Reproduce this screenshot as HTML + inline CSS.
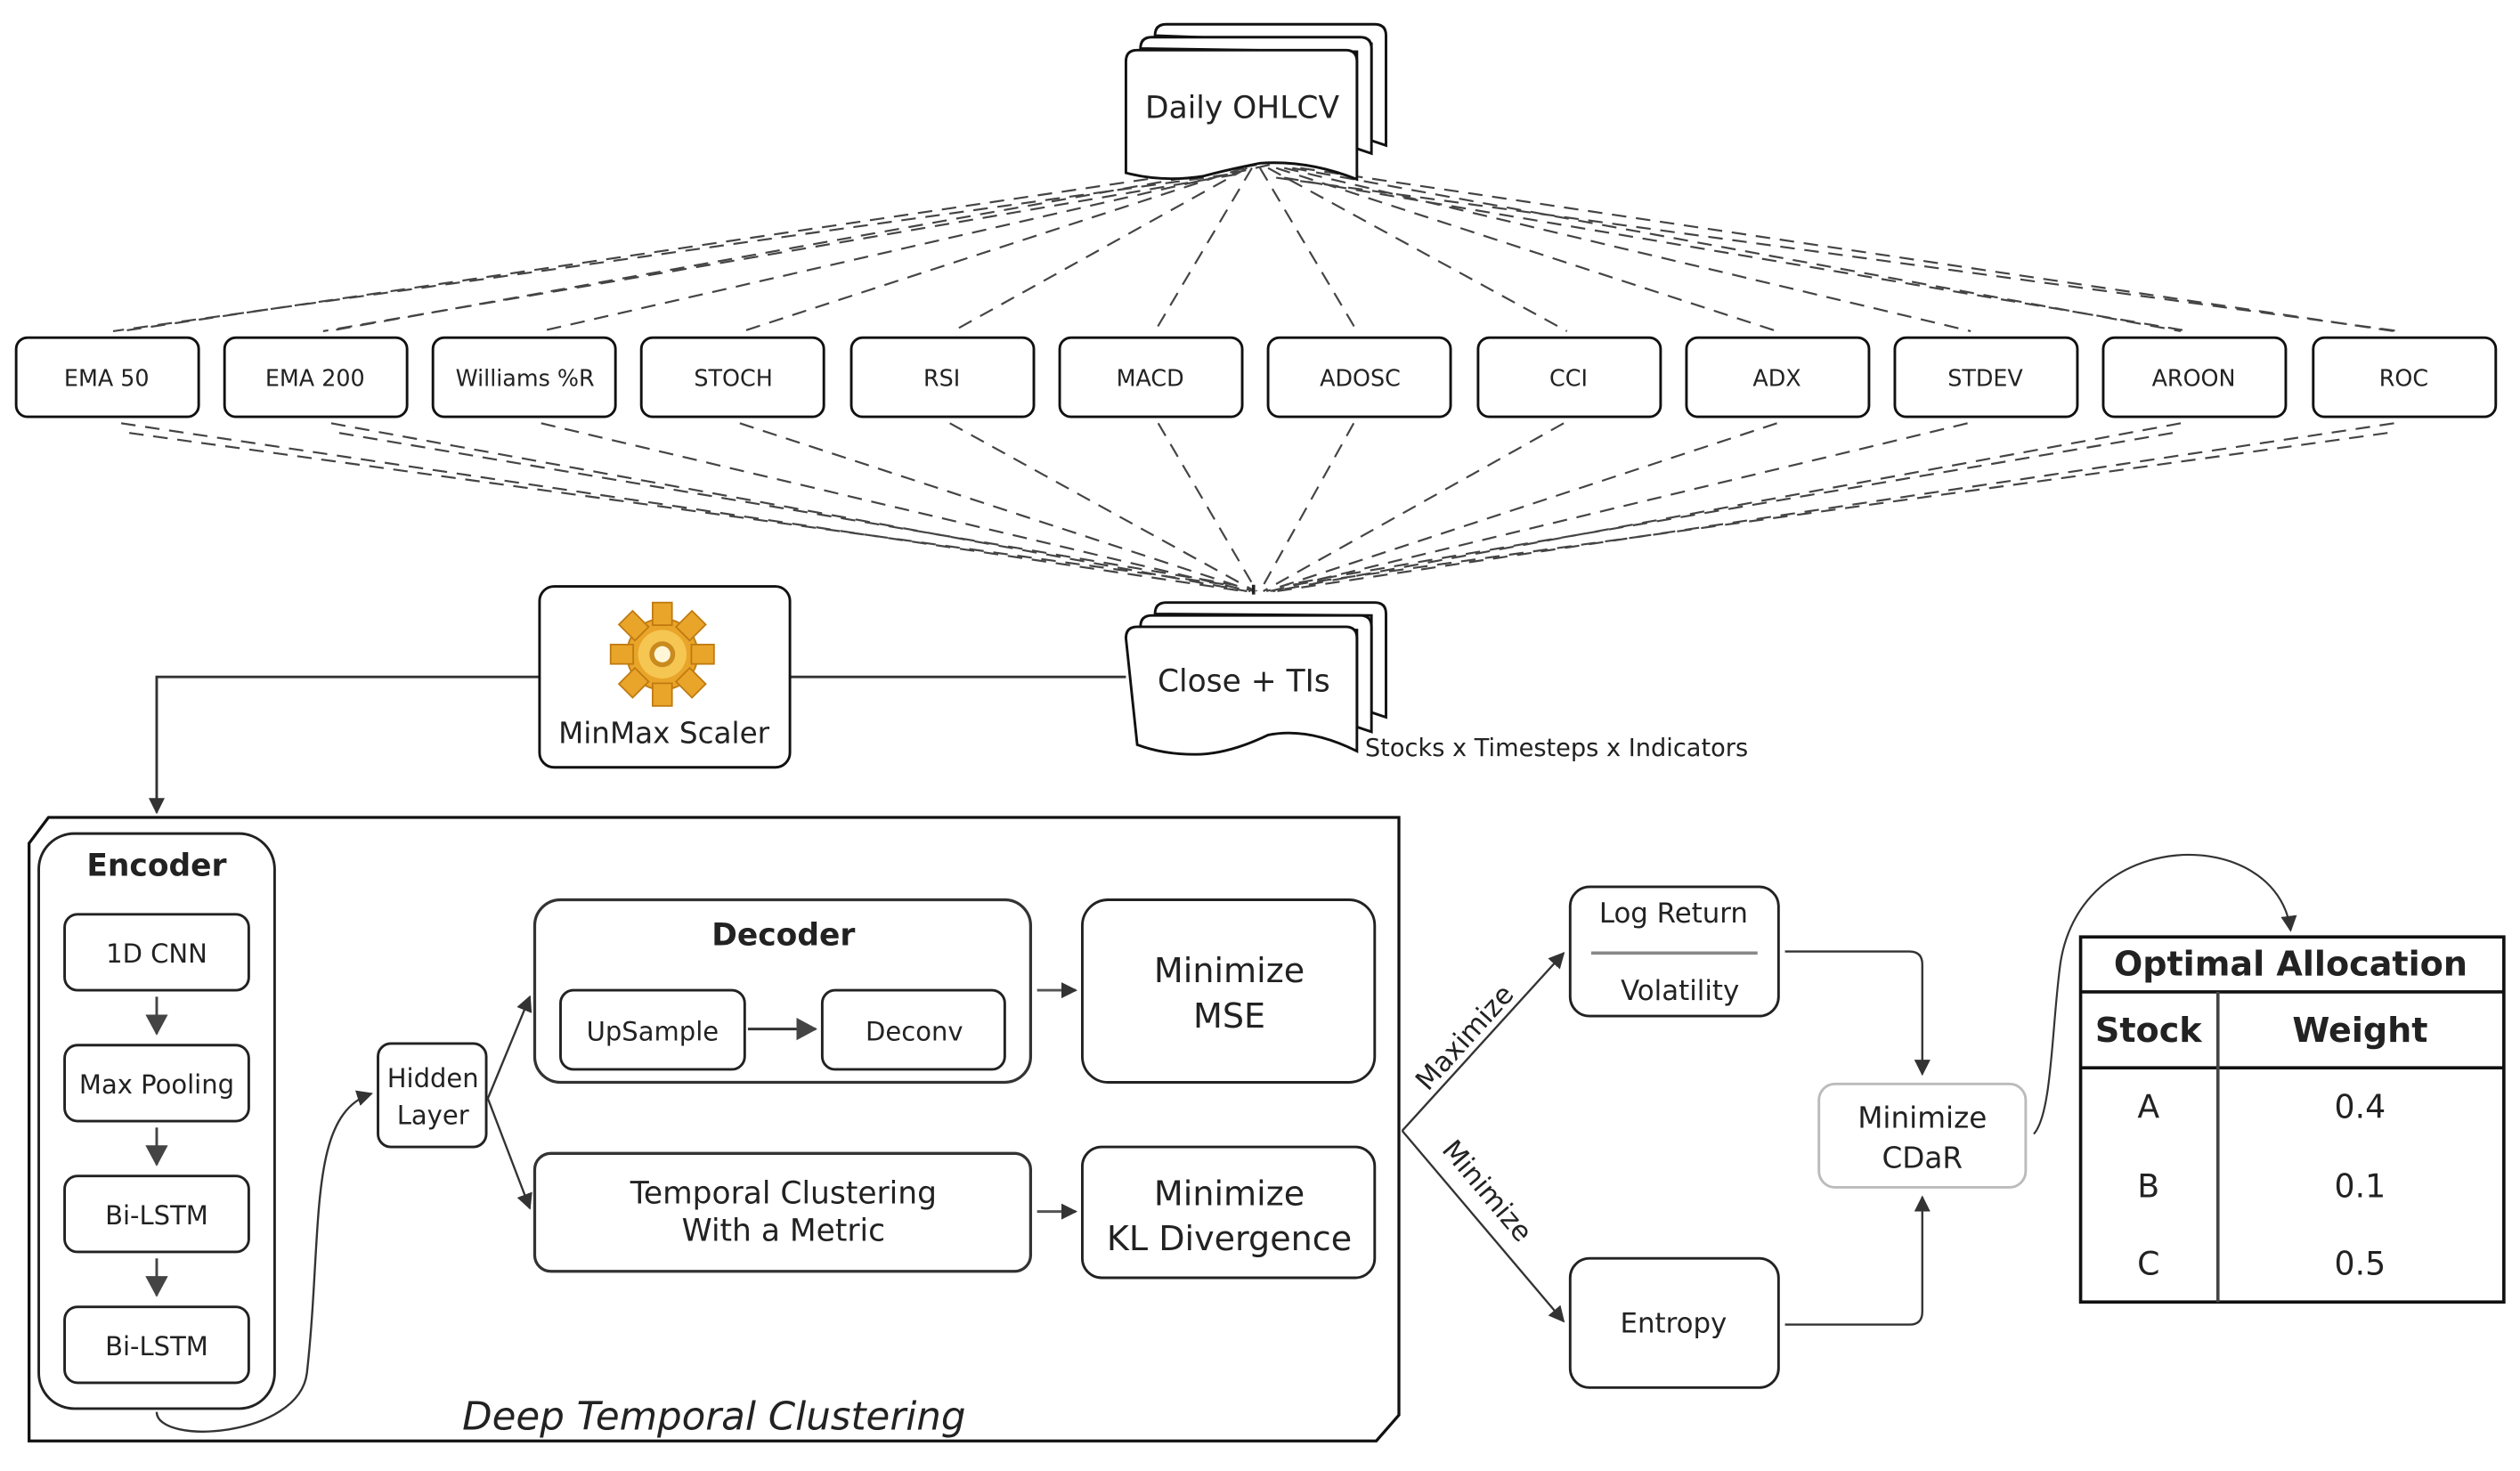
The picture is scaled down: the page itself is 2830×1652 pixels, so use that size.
<!DOCTYPE html>
<html><head><meta charset="utf-8"><style>
html,body{margin:0;padding:0;background:#fff;}
svg{display:block;}
text{font-family:"DejaVu Sans","Liberation Sans",sans-serif;fill:#222;}
</style></head><body>
<svg width="2830" height="1652" viewBox="0 0 1560 910.6" xmlns="http://www.w3.org/2000/svg">
<defs>
<marker id="a" markerWidth="10" markerHeight="10" refX="9" refY="5" orient="auto" markerUnits="userSpaceOnUse"><path d="M0,0 L10,5 L0,10 z" fill="#333"/></marker>
<marker id="b" markerWidth="14" markerHeight="14" refX="12" refY="7" orient="auto" markerUnits="userSpaceOnUse"><path d="M0,0 L13,7 L0,14 z" fill="#444"/></marker>
</defs>
<rect width="1560" height="911" fill="#fff"/>

<!-- dashed lines -->
<g stroke="#444" stroke-width="1.2" stroke-dasharray="9,6" fill="none">
<path d="M770,102 L75,205 M778,102 L203,205 M786,102 L335,205 M770,104 L460,205 M772,104 L590,205 M775,104 L715,205 M780,104 L840,205 M785,104 L970,205 M790,104 L1100,205 M795,104 L1220,205 M800,104 L1350,205 M805,104 L1482,205"/>
<path d="M760,108 L70,205 M790,110 L1485,205 M765,108 L200,205 M795,110 L1355,205"/>
<path d="M75,262 L770,366 M205,262 L772,366 M335,262 L774,366 M458,262 L776,366 M588,262 L777,366 M717,262 L778,366 M838,262 L780,366 M968,262 L782,366 M1100,262 L784,366 M1218,262 L786,366 M1350,262 L788,366 M1482,262 L790,366"/>
<path d="M80,268 L760,362 M1478,268 L800,362 M210,268 L764,362 M1345,268 L796,362"/>
</g>

<!-- Daily OHLCV doc -->
<g stroke="#111" stroke-width="1.6" fill="#fff">
<path d="M715,22 q0,-7 7,-7 h129 q7,0 7,7 v68 l-9,-3 v-60 z"/>
<path d="M706,30 q0,-7 7,-7 h129 q7,0 7,7 v65 l-9,-3 v-60 z"/>
<path d="M697,38 q0,-7 7,-7 h129 q7,0 7,7 v73 q-30,-12 -60,-10 q-20,4 -35,8 q-25,4 -48,-2 z"/>
</g>
<text x="769" y="73" font-size="19" text-anchor="middle">Daily OHLCV</text>

<!-- indicator boxes -->
<g stroke="#111" stroke-width="1.6" fill="#fff">
<rect x="10" y="209" width="113" height="49" rx="7"/><rect x="139" y="209" width="113" height="49" rx="7"/>
<rect x="268" y="209" width="113" height="49" rx="7"/><rect x="397" y="209" width="113" height="49" rx="7"/>
<rect x="527" y="209" width="113" height="49" rx="7"/><rect x="656" y="209" width="113" height="49" rx="7"/>
<rect x="785" y="209" width="113" height="49" rx="7"/><rect x="915" y="209" width="113" height="49" rx="7"/>
<rect x="1044" y="209" width="113" height="49" rx="7"/><rect x="1173" y="209" width="113" height="49" rx="7"/>
<rect x="1302" y="209" width="113" height="49" rx="7"/><rect x="1432" y="209" width="113" height="49" rx="7"/>
</g>
<g font-size="14" text-anchor="middle">
<text x="66" y="239">EMA 50</text><text x="195" y="239">EMA 200</text><text x="325" y="239">Williams %R</text>
<text x="454" y="239">STOCH</text><text x="583" y="239">RSI</text><text x="712" y="239">MACD</text>
<text x="842" y="239">ADOSC</text><text x="971" y="239">CCI</text><text x="1100" y="239">ADX</text>
<text x="1229" y="239">STDEV</text><text x="1358" y="239">AROON</text><text x="1488" y="239">ROC</text>
</g>

<!-- Close + TIs doc -->
<g stroke="#111" stroke-width="1.6" fill="#fff">
<path d="M715,380 q0,-7 7,-7 h129 q7,0 7,7 v64 l-9,-3 v-60 z"/>
<path d="M706,388 q0,-7 7,-7 h129 q7,0 7,7 v65 l-9,-3 v-60 z"/>
<path d="M697,395 q0,-7 7,-7 h129 q7,0 7,7 v70 q-30,-15 -55,-10 q-25,12 -45,12 q-20,0 -36,-6 z"/>
</g>
<text x="770" y="428" font-size="19" text-anchor="middle">Close + TIs</text>
<text x="845" y="468" font-size="15">Stocks x Timesteps x Indicators</text>
<path d="M776,362 v6" stroke="#222" stroke-width="2"/>

<!-- MinMax -->
<path d="M697,419 H489 M334,419 H97 V503" stroke="#333" stroke-width="1.6" fill="none" marker-end="url(#a)"/>
<rect x="334" y="363" width="155" height="112" rx="9" fill="#fff" stroke="#111" stroke-width="1.6"/>
<g transform="translate(410,405)">
<g fill="#e8a52a" stroke="#c07a10" stroke-width="1">
<circle r="22"/>
<g><rect x="-6" y="-32" width="12" height="14"/><rect x="-6" y="18" width="12" height="14"/><rect x="-32" y="-6" width="14" height="12"/><rect x="18" y="-6" width="14" height="12"/>
<rect x="-6" y="-32" width="12" height="14" transform="rotate(45)"/><rect x="-6" y="-32" width="12" height="14" transform="rotate(135)"/><rect x="-6" y="-32" width="12" height="14" transform="rotate(225)"/><rect x="-6" y="-32" width="12" height="14" transform="rotate(315)"/></g>
</g>
<circle r="15" fill="#f6c653"/><circle r="8" fill="#c98a1e"/><circle r="5" fill="#fff6d8"/>
</g>
<text x="411" y="460" font-size="18" text-anchor="middle">MinMax Scaler</text>

<!-- DTC container -->
<path d="M30,506 H866 V876 L852,892 H18 V522 Z" fill="#fff" stroke="#111" stroke-width="1.8"/>
<text x="442" y="885" font-size="24" font-style="italic" text-anchor="middle">Deep Temporal Clustering</text>

<!-- Encoder -->
<rect x="24" y="516" width="146" height="356" rx="22" fill="#fff" stroke="#222" stroke-width="1.6"/>
<text x="97" y="542" font-size="19" font-weight="bold" text-anchor="middle">Encoder</text>
<g stroke="#222" stroke-width="1.6" fill="#fff">
<rect x="40" y="566" width="114" height="47" rx="8"/><rect x="40" y="647" width="114" height="47" rx="8"/>
<rect x="40" y="728" width="114" height="47" rx="8"/><rect x="40" y="809" width="114" height="47" rx="8"/>
</g>
<g font-size="16" text-anchor="middle">
<text x="97" y="596">1D CNN</text><text x="97" y="677">Max Pooling</text><text x="97" y="758">Bi-LSTM</text><text x="97" y="839">Bi-LSTM</text>
</g>
<g stroke="#444" stroke-width="1.6" marker-end="url(#b)">
<line x1="97" y1="617" x2="97" y2="640"/><line x1="97" y1="698" x2="97" y2="721"/><line x1="97" y1="779" x2="97" y2="802"/>
</g>

<!-- encoder to hidden -->
<path d="M97,874 C97,895 185,890 190,850 C200,760 190,690 230,677" fill="none" stroke="#333" stroke-width="1.3" marker-end="url(#a)"/>
<rect x="234" y="646" width="67" height="64" rx="8" fill="#fff" stroke="#222" stroke-width="1.6"/>
<text x="268" y="673" font-size="16" text-anchor="middle">Hidden</text>
<text x="268" y="696" font-size="16" text-anchor="middle">Layer</text>
<g stroke="#333" stroke-width="1.3" fill="none" marker-end="url(#a)">
<path d="M302,680 L328,617"/><path d="M302,680 L328,748"/>
</g>

<!-- Decoder -->
<rect x="331" y="557" width="307" height="113" rx="16" fill="#fff" stroke="#333" stroke-width="1.8"/>
<text x="485" y="585" font-size="19" font-weight="bold" text-anchor="middle">Decoder</text>
<rect x="347" y="613" width="114" height="49" rx="8" fill="#fff" stroke="#222" stroke-width="1.6"/>
<rect x="509" y="613" width="113" height="49" rx="8" fill="#fff" stroke="#222" stroke-width="1.6"/>
<text x="404" y="644" font-size="16" text-anchor="middle">UpSample</text>
<text x="566" y="644" font-size="16" text-anchor="middle">Deconv</text>
<line x1="463" y1="637" x2="505" y2="637" stroke="#333" stroke-width="1.6" marker-end="url(#b)"/>

<rect x="331" y="714" width="307" height="73" rx="10" fill="#fff" stroke="#333" stroke-width="1.8"/>
<text x="485" y="745" font-size="19" text-anchor="middle">Temporal Clustering</text>
<text x="485" y="768" font-size="19" text-anchor="middle">With a Metric</text>

<rect x="670" y="557" width="181" height="113" rx="16" fill="#fff" stroke="#222" stroke-width="1.6"/>
<text x="761" y="608" font-size="21" text-anchor="middle">Minimize</text>
<text x="761" y="636" font-size="21" text-anchor="middle">MSE</text>
<rect x="670" y="710" width="181" height="81" rx="12" fill="#fff" stroke="#222" stroke-width="1.6"/>
<text x="761" y="746" font-size="21" text-anchor="middle">Minimize</text>
<text x="761" y="774" font-size="21" text-anchor="middle">KL Divergence</text>
<g stroke="#555" stroke-width="1.6" marker-end="url(#a)">
<line x1="642" y1="613" x2="666" y2="613"/><line x1="642" y1="750" x2="666" y2="750"/>
</g>

<!-- right side -->
<g stroke="#333" stroke-width="1.3" fill="none" marker-end="url(#a)">
<path d="M868,700 L968,590"/><path d="M868,700 L968,818"/>
</g>
<text font-size="17" transform="translate(884,676) rotate(-48)">Maximize</text>
<text font-size="17" transform="translate(892,712) rotate(50)">Minimize</text>

<rect x="972" y="549" width="129" height="80" rx="12" fill="#fff" stroke="#222" stroke-width="1.6"/>
<text x="1036" y="571" font-size="17" text-anchor="middle">Log Return</text>
<line x1="985" y1="590" x2="1088" y2="590" stroke="#888" stroke-width="2"/>
<text x="1040" y="619" font-size="17" text-anchor="middle">Volatility</text>
<rect x="972" y="779" width="129" height="80" rx="12" fill="#fff" stroke="#222" stroke-width="1.6"/>
<text x="1036" y="825" font-size="17" text-anchor="middle">Entropy</text>

<rect x="1126" y="671" width="128" height="64" rx="10" fill="#fff" stroke="#bbb" stroke-width="1.6"/>
<text x="1190" y="698" font-size="18" text-anchor="middle">Minimize</text>
<text x="1190" y="723" font-size="18" text-anchor="middle">CDaR</text>

<path d="M1105,589 H1182 Q1190,589 1190,597 V665" stroke="#333" stroke-width="1.3" fill="none" marker-end="url(#a)"/>
<path d="M1105,820 H1182 Q1190,820 1190,812 V741" stroke="#333" stroke-width="1.3" fill="none" marker-end="url(#a)"/>
<path d="M1259,702 C1270,690 1270,640 1275,600 C1285,510 1410,510 1418,576" stroke="#333" stroke-width="1.2" fill="none" marker-end="url(#a)"/>

<!-- table -->
<g stroke="#111" stroke-width="2" fill="none">
<rect x="1288" y="580" width="262" height="226"/>
<line x1="1288" y1="614" x2="1550" y2="614"/>
<line x1="1288" y1="661" x2="1550" y2="661"/>
<line x1="1373" y1="614" x2="1373" y2="806" stroke="#444"/>
</g>
<g text-anchor="middle">
<text x="1418" y="604" font-size="21" font-weight="bold">Optimal Allocation</text>
<text x="1330" y="645" font-size="21" font-weight="bold">Stock</text>
<text x="1461" y="645" font-size="21" font-weight="bold">Weight</text>
<text x="1330" y="692" font-size="20">A</text><text x="1461" y="692" font-size="20">0.4</text>
<text x="1330" y="741" font-size="20">B</text><text x="1461" y="741" font-size="20">0.1</text>
<text x="1330" y="789" font-size="20">C</text><text x="1461" y="789" font-size="20">0.5</text>
</g>
</svg>
</body></html>
